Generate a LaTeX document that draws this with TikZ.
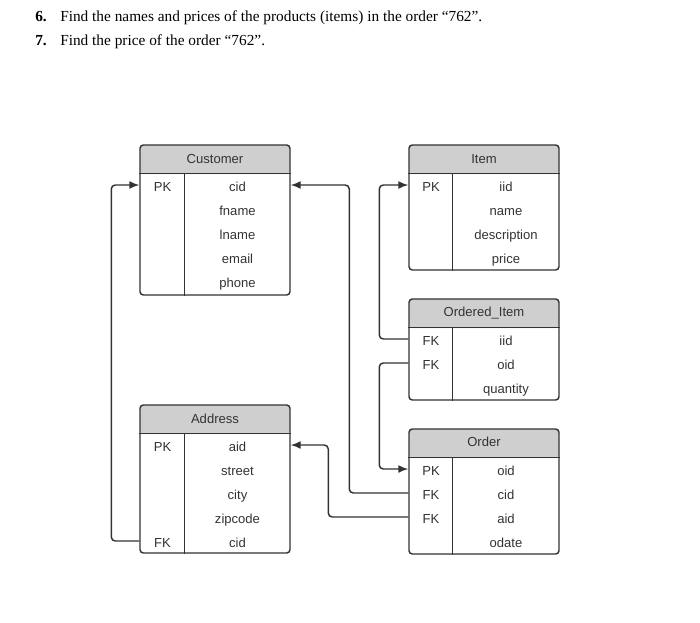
\documentclass[tikz,border=0pt]{standalone}
\usepackage{fontspec}
\setmainfont{Liberation Serif}
\setsansfont{Liberation Sans}
\usetikzlibrary{arrows.meta, positioning, calc}
\definecolor{linegray}{HTML}{333333}
\definecolor{headgray}{HTML}{CFCFCF}
\definecolor{textgray}{HTML}{333333}
\tikzset{
	table/.style={draw=linegray, line width=1.1pt, rounded corners=2.5pt, minimum width=112.5pt, inner sep=0pt,
		path picture={\fill[headgray] (path picture bounding box.north west) rectangle ([yshift=-21.75pt]path picture bounding box.north east);}},
	rule/.style={draw=linegray, line width=1.1pt},
	title/.style={font=\sffamily\fontsize{9.8}{11}\selectfont, text=textgray, inner sep=1pt},
	field/.style={title, text height=9.5pt, text depth=0.5pt},
	link/.style={draw=linegray, line width=1.1pt, rounded corners=3pt},
	fk/.style={link, -{Latex[length=7.5pt,width=6pt]}},
	question/.style={font=\fontsize{11.5}{13}\selectfont, anchor=base west, inner sep=0pt}
}
\begin{document}
\begin{tikzpicture}[x=0.75pt,y=-0.75pt]
	\useasboundingbox (0,0) rectangle (700,622);
	% Questions
	\node[question] (q6-num) at (35,21) {\textbf{6.}};
	\node[question] (q6) at (60,21) {Find the names and prices of the products (items) in the order “762”.};
	\node[question] (q7-num) at (35,45) {\textbf{7.}};
	\node[question] (q7) at (60,45) {Find the price of the order “762”.};

	% Customer
	\node[table, minimum height=112.5pt] (cust) at (215,220) {};
	\draw[rule] ([yshift=-21.75pt]cust.north west) -- ([yshift=-21.75pt]cust.north east);
	\draw[rule] ([xshift=33.75pt,yshift=-21.75pt]cust.north west) -- ([xshift=33.75pt]cust.south west);
	\node[title] (cust-title) at (215,159) {Customer};
	\node[field] (cust-pk) at (162.5,185) {PK};
	\foreach \f [count=\i from 0] in {cid,fname,lname,email,phone}
		\node[field] (cust-\f) at (237.5,{185+24*\i}) {\f};

	% Item
	\node[table, minimum height=93.75pt] (item) at (484,207.5) {};
	\draw[rule] ([yshift=-21.75pt]item.north west) -- ([yshift=-21.75pt]item.north east);
	\draw[rule] ([xshift=33pt,yshift=-21.75pt]item.north west) -- ([xshift=33pt]item.south west);
	\node[title] (item-title) at (484,159) {Item};
	\node[field] (item-pk) at (431,185) {PK};
	\foreach \f [count=\i from 0] in {iid,name,description,price}
		\node[field] (item-\f) at (506,{185+24*\i}) {\f};

	% Ordered_Item
	\node[table, minimum height=75.75pt] (oi) at (484,349.5) {};
	\draw[rule] ([yshift=-21.75pt]oi.north west) -- ([yshift=-21.75pt]oi.north east);
	\draw[rule] ([xshift=33pt,yshift=-21.75pt]oi.north west) -- ([xshift=33pt]oi.south west);
	\node[title] (oi-title) at (484,313) {Ordered\_Item};
	\node[field] (oi-fk1) at (431,339) {FK};
	\node[field] (oi-fk2) at (431,363) {FK};
	\foreach \f [count=\i from 0] in {iid,oid,quantity}
		\node[field] (oi-\f) at (506,{339+24*\i}) {\f};

	% Address
	\node[table, minimum height=111pt] (addr) at (215,479) {};
	\draw[rule] ([yshift=-21.75pt]addr.north west) -- ([yshift=-21.75pt]addr.north east);
	\draw[rule] ([xshift=33.75pt,yshift=-21.75pt]addr.north west) -- ([xshift=33.75pt]addr.south west);
	\node[title] (addr-title) at (215,419) {Address};
	\node[field] (addr-pk) at (162.5,445) {PK};
	\node[field] (addr-fk) at (162.5,541) {FK};
	\foreach \f [count=\i from 0] in {aid,street,city,zipcode,cid}
		\node[field] (addr-\f) at (237.5,{445+24*\i}) {\f};

	% Order
	\node[table, minimum height=93.75pt] (order) at (484,491.5) {};
	\draw[rule] ([yshift=-21.75pt]order.north west) -- ([yshift=-21.75pt]order.north east);
	\draw[rule] ([xshift=33pt,yshift=-21.75pt]order.north west) -- ([xshift=33pt]order.south west);
	\node[title] (order-title) at (484,442) {Order};
	\node[field] (order-pk) at (431,469) {PK};
	\node[field] (order-fk1) at (431,493) {FK};
	\node[field] (order-fk2) at (431,517) {FK};
	\foreach \f [count=\i from 0] in {oid,cid,aid,odate}
		\node[field] (order-\f) at (506,{469+24*\i}) {\f};

	% Connections
	\draw[fk] (addr.west |- addr-fk) -- ++(-28,0) |- (cust.west |- cust-pk);
	\draw[fk] (order.west |- order-fk1) -- ++(-59,0) |- (cust.east |- cust-cid);
	\draw[fk] (order.west |- order-fk2) -- ++(-80,0) |- (addr.east |- addr-aid);
	\draw[fk] (oi.west |- oi-fk1) -- ++(-29,0) |- (item.west |- item-pk);
	\draw[fk] (oi.west |- oi-fk2) -- ++(-29,0) |- (order.west |- order-pk);
\end{tikzpicture}
\end{document}
